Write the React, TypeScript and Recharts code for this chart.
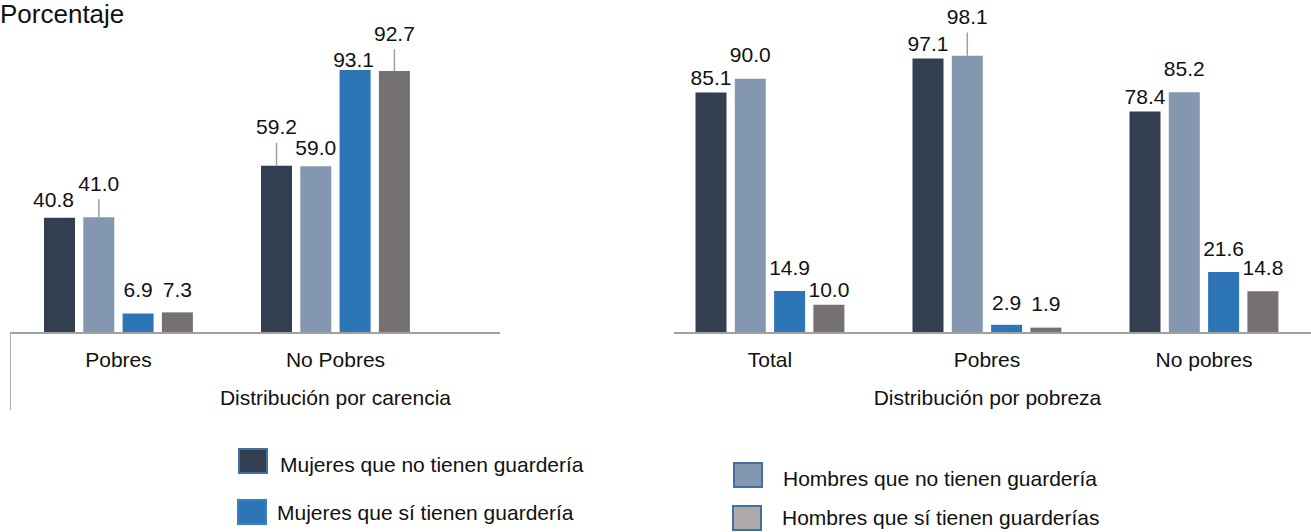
import { BarChart, Bar, XAxis, YAxis, LabelList } from "recharts";

// categorías
const categoriasCarencia = ["Pobres", "No Pobres"];
const categoriasPobreza = ["Total", "Pobres", "No pobres"];

// series - distribución por carencia
const mujeresNoCarencia = [40.8, 59.2];
const hombresNoCarencia = [41.0, 59.0];
const mujeresSiCarencia = [6.9, 93.1];
const hombresSiCarencia = [7.3, 92.7];

// series - distribución por pobreza
const mujeresNoPobreza = [85.1, 97.1, 78.4];
const hombresNoPobreza = [90.0, 98.1, 85.2];
const mujeresSiPobreza = [14.9, 2.9, 21.6];
const hombresSiPobreza = [10.0, 1.9, 14.8];

const nombresSeries = [
  "Mujeres que no tienen guardería",
  "Hombres que no tienen guardería",
  "Mujeres que sí tienen guardería",
  "Hombres que sí tienen guarderías",
];

const FUENTE = '"Liberation Sans", Arial, sans-serif';
const COLORES = ["#333f50", "#8497b0", "#2e75b6", "#767171"];
const COLORES_LEYENDA = ["#333f50", "#8497b0", "#2e75b6", "#aeaaaa"];
const LINEA = "#a0a0a0";

const claves = ["mNo", "hNo", "mSi", "hSi"];

const armarFilas = (cats: string[], series: number[][]) =>
  cats.map((cat, i) => {
    const fila: Record<string, string | number> = { cat };
    claves.forEach((k, s) => (fila[k] = series[s][i]));
    return fila;
  });

const datosCarencia = armarFilas(categoriasCarencia, [
  mujeresNoCarencia,
  hombresNoCarencia,
  mujeresSiCarencia,
  hombresSiCarencia,
]);
const datosPobreza = armarFilas(categoriasPobreza, [
  mujeresNoPobreza,
  hombresNoPobreza,
  mujeresSiPobreza,
  hombresSiPobreza,
]);

// ajuste de etiquetas: [serie][categoría] -> desplazamiento vertical del centro del texto, dx, línea guía
type Ajuste = { dy: number; dx?: number; guia?: boolean };
const ajustesCarencia: Ajuste[][] = [
  [{ dy: -18, dx: -6 }, { dy: -39, guia: true }],
  [{ dy: -34, guia: true }, { dy: -18.5 }],
  [{ dy: -24 }, { dy: -10, dx: -1.5 }],
  [{ dy: -22.5 }, { dy: -37.7, guia: true }],
];
const ajustesPobreza: Ajuste[][] = [
  [{ dy: -15.4 }, { dy: -15 }, { dy: -15 }],
  [{ dy: -24 }, { dy: -39.3, guia: true }, { dy: -23.3 }],
  [{ dy: -23.3 }, { dy: -22.7 }, { dy: -23.7 }],
  [{ dy: -15 }, { dy: -24 }, { dy: -24 }],
];

const etiqueta = (ajustes: Ajuste[][], s: number) => (props: any) => {
  const { x, y, width, value, index } = props;
  const a = ajustes[s][index] ?? { dy: -18 };
  const cx = Number(x) + Number(width) / 2;
  const ty = Number(y) + a.dy;
  return (
    <g>
      {a.guia && (
        <line x1={cx} x2={cx} y1={ty + 16} y2={Number(y)} stroke={LINEA} strokeWidth={1.5} />
      )}
      <text
        x={cx + (a.dx ?? 0)}
        y={ty}
        textAnchor="middle"
        dominantBaseline="central"
        fontSize={21}
        fontFamily={FUENTE}
        fill="#111"
      >
        {Number(value).toFixed(1)}
      </text>
    </g>
  );
};

const tick = (props: any) => (
  <text
    x={props.x}
    y={props.y + 26}
    textAnchor="middle"
    dominantBaseline="central"
    fontSize={21}
    fontFamily={FUENTE}
    fill="#111"
  >
    {props.payload.value}
  </text>
);

const titulo = (texto: string, corrimiento: number) => (props: any) => {
  const vb = props.viewBox;
  return (
    <text
      x={vb.x + vb.width / 2 + corrimiento}
      y={vb.y + 64}
      textAnchor="middle"
      dominantBaseline="central"
      fontSize={21}
      fontFamily={FUENTE}
      fill="#111"
    >
      {texto}
    </text>
  );
};

const Grafico = ({
  datos,
  ajustes,
  ancho,
  margen,
  padding,
  tituloEje,
  corrimiento,
}: {
  datos: Record<string, string | number>[];
  ajustes: Ajuste[][];
  ancho: number;
  margen: { left: number; right: number };
  padding: { left: number; right: number };
  tituloEje: string;
  corrimiento: number;
}) => (
  <BarChart
    width={ancho}
    height={420}
    data={datos}
    margin={{ top: 50.4, bottom: 0, left: margen.left, right: margen.right }}
    barSize={31}
    barGap={8.3}
  >
    <YAxis hide domain={[0, 100]} />
    <XAxis
      dataKey="cat"
      height={87}
      padding={padding}
      tickLine={false}
      tickSize={0}
      tickMargin={0}
      tick={tick}
      axisLine={{ stroke: LINEA, strokeWidth: 2 }}
      label={{ content: titulo(tituloEje, corrimiento) }}
    />
    {claves.map((k, s) => (
      <Bar key={k} dataKey={k} fill={COLORES[s]} isAnimationActive={false}>
        <LabelList dataKey={k} content={etiqueta(ajustes, s)} />
      </Bar>
    ))}
  </BarChart>
);

const leyenda = [
  { serie: 0, sx: 238, sy: 448, tx: 280, ty: 465 },
  { serie: 2, sx: 237, sy: 499, tx: 277, ty: 513 },
  { serie: 1, sx: 733, sy: 462, tx: 783, ty: 479 },
  { serie: 3, sx: 732, sy: 505, tx: 782, ty: 518 },
];

export default function App() {
  return (
    <div
      style={{
        position: "absolute",
        left: 0,
        top: 0,
        width: 1311,
        height: 532,
        background: "#fff",
        fontFamily: FUENTE,
        color: "#111",
        overflow: "hidden",
      }}
    >
      <div style={{ position: "absolute", left: 0, top: 0 }}>
        <Grafico
          datos={datosCarencia}
          ajustes={ajustesCarencia}
          ancho={520}
          margen={{ left: 10, right: 20 }}
          padding={{ left: 0, right: 56 }}
          tituloEje="Distribución por carencia"
          corrimiento={80.5}
        />
      </div>
      <div style={{ position: "absolute", left: 640, top: 0 }}>
        <Grafico
          datos={datosPobreza}
          ajustes={ajustesPobreza}
          ancho={671}
          margen={{ left: 34, right: 0 }}
          padding={{ left: -12.5, right: -1.5 }}
          tituloEje="Distribución por pobreza"
          corrimiento={-5}
        />
      </div>

      <div
        style={{
          position: "absolute",
          left: 0,
          top: 1,
          fontSize: 26,
          lineHeight: "26px",
        }}
      >
        Porcentaje
      </div>

      <div
        style={{
          position: "absolute",
          left: 10,
          top: 333,
          width: 1,
          height: 77,
          background: "#b0b0b0",
        }}
      />

      {leyenda.map((l) => (
        <div key={l.serie}>
          <div
            style={{
              position: "absolute",
              left: l.sx,
              top: l.sy,
              width: 30,
              height: 26,
              boxSizing: "border-box",
              background: COLORES_LEYENDA[l.serie],
              border: `2px solid ${l.serie === 2 ? "#3a80c0" : "#41719c"}`,
            }}
          />
          <div
            style={{
              position: "absolute",
              left: l.tx,
              top: l.ty - 12,
              fontSize: 21,
              lineHeight: "24px",
              whiteSpace: "nowrap",
            }}
          >
            {nombresSeries[l.serie]}
          </div>
        </div>
      ))}
    </div>
  );
}
